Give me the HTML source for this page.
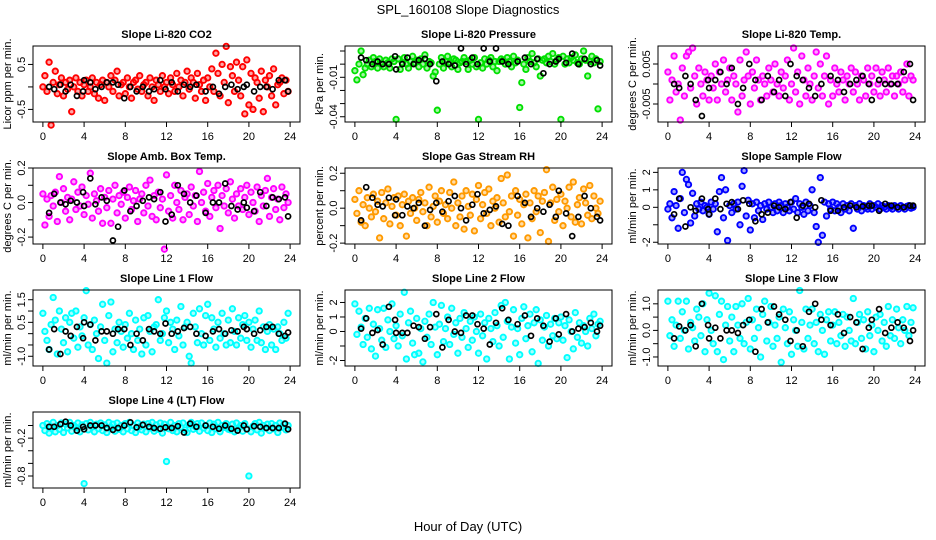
<!DOCTYPE html>
<html><head><meta charset="utf-8"><style>
body{margin:0;background:#fff;}
svg{display:block;font-family:"Liberation Sans",sans-serif;}
</style></head><body>
<svg id="c" width="936" height="540" viewBox="0 0 936 540">
<rect width="936" height="540" fill="#fff"/>
<text x="468" y="14" text-anchor="middle" font-size="13">SPL_160108  Slope Diagnostics</text>
<text x="468" y="531" text-anchor="middle" font-size="13">Hour of Day (UTC)</text>
</svg>
<script>
const H=[0.0,0.2,0.4,0.6,0.8,1.0,1.2,1.4,1.6,1.8,
2.0,2.2,2.4,2.6,2.8,3.0,3.2,3.4,3.6,3.8,
4.0,4.2,4.4,4.6,4.8,5.0,5.2,5.4,5.6,5.8,
6.0,6.2,6.4,6.6,6.8,7.0,7.2,7.4,7.6,7.8,
8.0,8.2,8.4,8.6,8.8,9.0,9.2,9.4,9.6,9.8,
10.0,10.2,10.4,10.6,10.8,11.0,11.2,11.4,11.6,11.8,
12.0,12.2,12.4,12.6,12.8,13.0,13.2,13.4,13.6,13.8,
14.0,14.2,14.4,14.6,14.8,15.0,15.2,15.4,15.6,15.8,
16.0,16.2,16.4,16.6,16.8,17.0,17.2,17.4,17.6,17.8,
18.0,18.2,18.4,18.6,18.8,19.0,19.2,19.4,19.6,19.8,
20.0,20.2,20.4,20.6,20.8,21.0,21.2,21.4,21.6,21.8,
22.0,22.2,22.4,22.6,22.8,23.0,23.2,23.4,23.6,23.8];
const HB=[0.6,1.1,1.7,2.2,2.7,3.3,3.9,4.0,4.6,5.1,5.7,6.2,6.8,7.3,7.9,8.5,9.1,9.7,10.3,10.8,11.4,11.9,12.5,13.1,13.7,14.3,14.9,15.8,16.5,17.1,17.7,18.3,18.9,19.5,19.8,20.5,21.1,21.7,22.3,22.9,23.5,23.8];
const xTicks=[0,4,8,12,16,20,24];

const co2=[0.0,0.25,-0.1,0.55,-0.85,0.1,0.35,-0.15,0.05,0.2,-0.2,0.1,-0.05,0.15,-0.55,0.0,0.2,-0.1,0.1,-0.2,0.05,0.15,-0.1,0.0,0.2,-0.15,0.1,-0.25,0.05,0.15,-0.3,0.1,0.0,0.25,-0.1,0.15,0.35,-0.2,0.05,0.1,-0.15,0.2,0.0,-0.25,0.1,0.15,-0.05,0.25,-0.1,0.05,0.1,-0.2,0.2,0.0,-0.3,0.15,0.05,-0.1,0.25,0.0,0.1,-0.15,0.2,0.05,-0.1,0.3,0.0,0.15,-0.2,0.1,0.35,-0.05,0.2,0.1,-0.25,0.3,0.05,-0.1,0.15,-0.3,0.2,0.0,0.4,-0.1,0.75,0.3,-0.2,0.5,0.1,0.9,-0.35,0.45,0.25,-0.1,0.55,0.15,-0.2,0.45,-0.6,0.6,-0.4,0.3,-0.5,0.2,0.1,-0.25,0.35,-0.55,0.15,0.0,0.25,-0.2,0.4,-0.4,0.05,0.1,0.2,-0.15,0.15,-0.1];
const co2B=[0.0,-0.05,0.05,-0.1,0.05,-0.2,-0.1,0.15,0.1,-0.05,0.0,0.1,0.1,0.05,-0.25,0.0,-0.1,0.0,-0.1,-0.05,0.15,-0.05,0.1,-0.1,0.05,0.0,0.05,-0.1,0.0,-0.15,0.0,0.05,-0.05,0.0,0.05,-0.1,0.0,0.0,-0.05,0.15,0.15,-0.1];
const press=[-0.005,-0.012,0.0,0.01,-0.008,-0.003,0.0,0.003,-0.002,0.005,0.002,-0.003,0.004,0.0,-0.002,0.003,0.001,-0.003,0.004,0.002,-0.042,0.004,-0.004,0.001,0.005,0.0,-0.003,0.002,0.006,0.001,0.003,-0.002,0.004,0.0,0.007,-0.003,0.002,0.001,-0.009,-0.006,-0.035,0.0,0.005,-0.003,0.002,0.006,0.001,-0.002,0.004,0.003,-0.004,0.001,0.002,0.005,0.002,-0.004,0.003,0.0,0.005,-0.002,-0.042,0.001,-0.003,0.004,0.0,0.003,0.005,-0.002,0.002,-0.005,0.002,0.004,0.003,0.0,0.005,0.002,-0.002,0.006,0.001,0.003,-0.033,-0.014,0.0,-0.004,0.005,0.002,0.008,0.001,-0.002,0.004,-0.009,0.003,0.004,0.001,0.006,0.002,0.008,0.0,0.003,0.005,-0.042,0.006,0.0,0.004,0.001,0.005,0.003,0.007,0.001,0.0,0.004,0.01,0.003,-0.009,0.002,0.006,0.001,0.004,-0.034,0.002];
const pressB=[0.005,0.003,0.0,0.002,0.0,0.0,0.006,-0.004,0.0,0.005,0.0,0.003,0.004,0.0,-0.013,0.002,0.0,-0.001,0.012,0.0,0.005,0.0,0.012,0.002,0.012,0.002,0.0,0.002,0.005,0.0,0.004,-0.007,0.0,0.002,0.004,0.001,0.008,0.0,0.004,0.0,0.003,-0.001];
const temp=[0.003,-0.004,0.001,0.007,-0.002,0.0,-0.009,0.004,-0.003,0.007,0.008,-0.001,0.009,0.002,-0.005,0.004,0.0,-0.003,0.003,0.001,-0.004,0.002,-0.001,0.005,-0.004,0.003,0.0,0.006,-0.002,0.001,0.004,-0.004,0.002,0.0,-0.007,0.006,-0.003,0.001,0.008,0.002,-0.005,0.003,-0.001,0.006,0.001,-0.004,0.002,0.0,-0.003,0.004,0.001,-0.002,0.005,0.0,-0.003,0.003,-0.001,0.002,0.006,-0.004,0.0,0.009,-0.002,0.003,-0.005,0.007,0.001,-0.003,0.004,0.0,-0.004,0.002,0.008,-0.001,0.005,-0.003,0.002,0.007,-0.005,0.001,-0.003,0.004,0.0,-0.002,0.003,0.001,-0.004,0.002,0.0,0.004,-0.002,0.003,0.0,-0.004,0.002,0.001,-0.003,0.004,0.0,0.002,-0.002,0.004,0.0,-0.003,0.003,0.001,-0.002,0.004,0.0,0.002,-0.003,0.002,0.0,0.003,-0.002,0.001,0.005,-0.003,0.002,0.001];
const tempB=[0.0,-0.001,0.002,0.0,-0.004,-0.008,0.001,-0.001,0.001,0.003,0.0,0.004,-0.005,-0.001,0.005,0.001,-0.004,0.002,-0.002,0.001,-0.003,0.005,0.002,0.001,-0.001,-0.003,0.0,0.002,0.001,-0.002,0.0,0.001,0.002,0.0,-0.004,0.001,0.0,0.0,0.0,0.003,0.005,-0.004];
const amb=[0.05,-0.13,0.02,-0.08,0.04,-0.02,0.06,-0.11,0.15,0.0,0.08,-0.05,0.03,-0.1,0.02,0.12,-0.04,0.06,-0.02,0.09,-0.07,0.04,-0.01,0.17,-0.09,0.05,0.01,-0.05,0.08,-0.12,0.03,-0.03,0.07,-0.12,0.02,0.1,-0.06,0.04,-0.01,0.06,-0.09,0.03,0.09,-0.04,0.01,0.07,-0.11,0.02,0.05,-0.06,0.1,-0.02,0.13,-0.08,0.04,-0.1,0.06,-0.03,0.02,-0.27,0.16,-0.05,0.04,-0.09,0.1,0.0,-0.04,0.07,-0.1,0.03,0.05,-0.07,0.09,-0.02,0.04,-0.11,0.18,0.0,0.06,-0.05,0.11,-0.08,0.03,0.07,-0.03,0.1,-0.15,0.04,-0.02,0.08,-0.06,0.12,0.02,-0.09,0.05,-0.02,0.08,-0.04,0.03,0.1,-0.07,0.06,0.0,-0.05,0.09,-0.11,0.04,-0.02,0.07,0.14,-0.08,0.03,0.08,-0.04,0.02,-0.1,0.09,-0.03,0.05,0.0];
const ambB=[-0.06,0.05,0.0,-0.01,0.01,0.0,0.06,-0.02,0.14,-0.01,0.03,0.01,-0.22,-0.14,0.07,-0.05,-0.02,0.01,0.03,0.02,0.06,-0.11,-0.07,0.1,0.05,0.0,0.04,-0.06,0.0,0.0,0.11,-0.02,-0.04,0.0,-0.03,-0.05,0.06,-0.02,0.03,0.02,0.03,-0.08];
const rh=[0.05,-0.03,0.1,-0.08,0.02,-0.1,0.06,0.0,-0.05,0.08,-0.02,0.04,-0.17,0.09,-0.06,0.03,0.11,-0.09,0.01,0.06,-0.04,0.07,-0.1,0.02,0.08,-0.16,0.04,-0.03,0.06,0.0,-0.07,0.05,0.09,-0.02,0.03,-0.1,0.12,-0.05,0.01,0.07,-0.08,0.04,0.1,-0.03,0.02,-0.06,0.09,0.0,0.15,-0.1,0.03,-0.05,0.07,-0.12,0.1,0.01,-0.04,0.08,-0.13,0.05,0.13,-0.06,0.02,0.09,-0.03,0.11,-0.1,0.04,0.0,0.06,-0.08,0.17,0.03,-0.05,0.19,-0.02,0.07,-0.16,0.1,-0.04,0.05,-0.09,0.02,0.08,-0.17,0.03,-0.06,0.1,-0.02,0.07,-0.14,0.04,0.09,0.22,-0.19,0.03,0.12,-0.07,0.05,-0.02,0.08,-0.1,0.04,0.0,0.12,-0.05,0.15,-0.08,0.02,0.06,-0.09,0.11,0.03,-0.04,0.13,-0.06,0.07,0.0,-0.03,0.04];
const rhB=[-0.07,0.12,0.06,0.02,0.01,0.06,-0.04,0.05,-0.04,0.01,0.0,0.03,-0.1,-0.01,0.03,-0.02,0.04,0.07,0.0,-0.07,0.02,0.08,-0.03,-0.01,0.01,-0.09,-0.1,0.07,0.03,-0.05,0.0,-0.02,0.02,-0.05,0.1,-0.03,-0.16,-0.05,0.07,0.0,-0.05,-0.07];
const samp=[-0.1,0.2,-0.6,0.9,0.1,-1.2,0.5,2.0,-0.3,1.6,1.3,-0.9,0.8,-0.5,0.2,-0.1,0.3,-0.2,0.1,0.0,-0.4,0.3,-0.1,0.2,-1.4,0.9,1.7,-0.6,1.0,-1.9,0.1,-0.3,0.2,-0.1,0.3,-1.0,1.2,2.1,-0.5,0.4,-1.3,0.2,-0.6,0.3,-0.2,0.1,-0.7,0.2,-0.1,0.3,0.0,-0.3,0.2,-0.2,0.3,0.1,-0.3,0.2,0.0,-0.2,0.3,-0.1,0.5,-0.3,0.2,0.0,-0.4,0.3,-0.2,0.1,1.0,-0.3,-1.1,-2.0,1.7,-1.6,0.3,-0.5,0.2,-0.1,0.3,-0.2,0.2,0.0,-0.3,0.2,-0.1,0.1,-0.2,0.2,-1.2,0.1,-0.1,0.2,-0.2,0.1,0.0,-0.1,0.2,-0.1,0.1,0.0,0.2,-0.1,0.1,0.0,-0.1,0.1,0.0,-0.1,0.1,0.0,-0.1,0.1,0.0,-0.1,0.05,0.1,-0.05,0.0];
const sampB=[-0.4,0.5,-1.1,0.0,-0.2,0.5,-0.1,-0.4,0.5,-0.1,0.2,0.3,-0.1,0.4,0.2,-0.8,-0.4,-0.3,0.1,0.0,-0.1,0.3,-0.6,0.1,0.2,0.0,0.4,-0.2,-0.2,0.0,0.1,0.0,0.05,0.1,0.1,-0.2,0.2,0.1,0.0,0.0,0.1,0.1];
const l1=[0.9,0.1,-0.3,-0.7,0.4,1.6,0.6,-0.9,1.0,0.2,-0.4,0.7,-0.8,0.5,0.9,-0.2,1.0,-0.6,0.3,-0.1,0.7,1.9,-0.5,0.4,-0.7,0.6,0.0,-1.1,0.3,1.3,-0.3,-1.3,0.8,1.4,-0.8,0.2,-0.4,0.5,0.1,-0.6,0.4,-0.2,0.9,0.0,-0.7,0.6,-0.3,0.2,-0.9,0.7,-0.5,0.8,0.1,-0.8,0.3,0.4,1.5,-0.3,0.0,0.7,1.0,-0.4,0.5,0.2,-0.7,0.6,-0.1,1.2,-0.5,0.3,0.5,-1.0,-1.3,0.9,0.3,-0.4,1.1,0.0,-0.5,0.8,1.3,-0.3,0.7,0.2,-0.6,0.5,-0.2,0.9,0.0,-0.5,0.6,-0.4,1.1,0.1,-0.5,0.7,-0.2,0.4,0.8,-0.3,0.5,-0.6,0.2,0.6,-0.3,1.0,-0.4,0.3,-0.7,0.1,0.4,-0.5,0.2,-0.7,0.3,0.0,-0.3,0.5,-0.2,0.9];
const l1B=[-0.7,0.2,-0.9,0.1,-0.1,0.3,-0.2,0.5,0.4,-0.3,0.1,0.1,0.0,0.2,0.2,-0.5,0.0,-0.3,0.2,0.1,0.0,0.45,0.0,0.1,0.25,0.3,0.0,-0.1,0.1,0.2,0.0,0.15,0.1,0.3,0.2,0.0,0.15,0.3,0.3,0.0,-0.1,0.05];
const l2=[1.9,-0.2,1.4,0.3,-0.9,0.9,-0.4,1.6,-1.2,0.5,-1.7,1.5,0.2,-0.6,1.6,-1.1,0.8,0.0,1.9,-0.5,0.4,-1.0,1.2,-0.3,2.7,-1.9,0.6,1.4,-0.8,-1.6,0.9,-1.5,0.2,-2.1,0.7,-0.4,1.2,-0.9,2.0,0.3,-1.6,0.5,1.8,-0.7,0.2,1.0,-0.9,1.6,-0.2,0.6,-1.5,0.9,-0.4,1.3,0.2,-1.1,0.7,-0.6,1.0,0.0,-1.5,1.2,-0.3,0.6,-1.9,0.9,0.2,-0.7,1.3,0.4,-1.0,1.8,-0.4,2.0,0.7,-1.9,0.3,1.5,-0.8,0.2,-1.6,0.9,1.7,-0.5,0.4,1.2,-1.4,0.6,1.5,-2.2,0.8,-0.6,0.3,1.1,-1.0,0.5,-0.3,0.9,-0.5,0.6,1.0,-0.6,0.4,-1.8,0.8,0.0,-1.2,1.3,-0.4,0.6,-0.8,0.4,0.0,-1.0,0.9,0.2,1.2,-0.3,0.5,0.7];
const l2B=[0.2,0.9,-0.1,0.1,-0.9,1.7,0.8,-0.1,-0.1,-0.1,0.4,0.3,-0.5,0.3,1.2,-1.1,0.8,0.0,-0.1,1.1,1.1,0.5,0.2,-0.9,0.6,1.6,0.8,0.5,1.1,-0.3,0.9,0.4,-0.7,0.9,-0.2,1.2,0.0,0.2,0.3,0.6,0.0,0.4];
const l3=[1.1,-0.2,0.4,-0.6,0.2,1.1,-0.3,0.7,0.0,1.1,-0.7,0.3,0.1,-0.4,0.8,0.5,-0.2,1.0,-0.8,0.4,1.4,0.0,-0.5,1.3,-0.8,0.6,1.1,-1.1,0.2,0.9,-0.4,0.5,-0.8,0.9,0.2,-0.3,1.0,-0.5,0.3,1.2,-0.7,0.4,-0.3,0.8,0.1,-1.0,0.6,1.1,-0.4,0.3,0.9,-0.6,0.2,-0.3,0.5,-1.2,0.8,0.1,-0.5,0.7,-0.9,0.4,0.0,-0.6,1.5,0.3,-0.7,0.8,-0.3,0.2,0.8,-0.5,0.3,-0.8,0.6,0.0,-0.9,0.4,0.7,-0.4,0.2,0.7,-0.5,0.3,-0.2,0.6,-0.6,0.5,0.0,-0.4,1.2,-0.5,0.3,0.6,-0.3,0.4,-0.7,0.7,-0.2,0.2,-0.8,0.5,0.0,0.6,-0.4,0.3,-0.6,0.9,-0.2,0.4,-0.3,0.8,0.1,-0.5,0.4,0.0,0.9,-0.2,0.3,0.85];
const l3B=[-0.3,0.15,0.0,0.2,-0.6,1.0,0.2,-0.3,0.1,-0.3,0.0,0.0,-0.1,0.2,0.4,-0.8,0.8,0.3,0.9,0.6,0.4,-0.4,0.0,-0.6,0.7,1.0,0.4,0.2,0.6,-0.1,0.5,0.3,-0.7,0.1,0.4,0.8,-0.1,0.1,0.3,0.1,-0.4,0.0];
const l4=[0.0,-0.08,0.03,-0.12,-0.02,0.05,-0.1,0.0,-0.06,0.04,-0.11,0.02,-0.04,0.05,-0.09,0.0,-0.03,0.04,-0.1,0.01,-0.92,0.03,-0.07,0.05,-0.02,-0.1,0.02,-0.05,0.04,-0.08,0.01,-0.11,0.05,-0.03,0.02,-0.09,0.04,-0.06,0.0,-0.1,0.03,-0.05,0.05,-0.08,0.0,-0.11,0.04,-0.02,-0.07,0.02,-0.1,0.03,-0.04,0.05,-0.09,0.01,-0.06,0.04,-0.12,0.02,-0.57,-0.05,0.05,-0.08,0.0,-0.1,0.03,-0.03,0.04,-0.07,-0.11,0.01,0.05,-0.06,-0.02,0.03,-0.09,0.04,-0.04,0.0,-0.08,0.04,-0.11,0.02,-0.05,0.05,-0.1,0.0,-0.03,0.03,-0.06,-0.07,0.02,-0.1,0.04,-0.04,0.0,-0.09,0.03,-0.05,-0.8,-0.1,-0.01,0.03,-0.07,0.05,-0.12,0.0,-0.04,0.02,-0.08,0.03,-0.05,0.0,-0.11,0.04,-0.03,0.02,-0.07,0.0];
const l4B=[-0.02,-0.02,0.02,0.06,0.0,-0.08,-0.02,-0.06,0.0,0.0,0.0,-0.04,-0.07,-0.04,0.0,0.05,-0.03,0.01,-0.02,-0.04,-0.05,-0.03,-0.04,-0.01,-0.11,0.03,-0.02,0.0,-0.02,-0.05,0.0,-0.05,-0.08,0.0,-0.06,-0.01,-0.02,-0.04,-0.04,-0.04,0.03,-0.06];

const co2Ticks=[0.5,0,-0.5], co2Labels=["0.5","","-0.5"];
const pressTicks=[0.01,0,-0.01,-0.02,-0.03,-0.04], pressLabels=["","","-0.01","","","-0.04"];
const tempTicks=[0.005,0,-0.005], tempLabels=["0.005","","-0.005"];
const ambTicks=[0.2,0.1,0,-0.1,-0.2], ambLabels=["0.2","","0.0","","-0.2"];
const rhTicks=[0.2,0.1,0,-0.1,-0.2], rhLabels=["0.2","","0.0","","-0.2"];
const sampTicks=[2,1,0,-1,-2], sampLabels=["2","1","0","","-2"];
const l1Ticks=[1.5,1,0.5,0,-0.5,-1], l1Labels=["1.5","","0.5","","","-1.0"];
const l2Ticks=[2,1,0,-1,-2], l2Labels=["2","1","0","","-2"];
const l3Ticks=[1,0.5,0,-0.5,-1], l3Labels=["1.0","","0.0","","-1.0"];
const l4Ticks=[0,-0.2,-0.4,-0.6,-0.8], l4Labels=["","-0.2","","","-0.8"];

const panels=[
 {name:"co2",title:"Slope Li-820 CO2",yt:"Licor ppm per min.",col:0,row:0,lim:[-0.78,0.91],v:co2,b:co2B,t:co2Ticks,l:co2Labels,c:"#ff0000"},
 {name:"pressure",title:"Slope Li-820 Pressure",yt:"kPa per min.",col:1,row:0,lim:[-0.044,0.0138],v:press,b:pressB,t:pressTicks,l:pressLabels,c:"#00e000"},
 {name:"temp",title:"Slope Li-820 Temp.",yt:"degrees C per min.",col:2,row:0,lim:[-0.0095,0.0095],v:temp,b:tempB,t:tempTicks,l:tempLabels,c:"#ff00ff"},
 {name:"amb-box-temp",title:"Slope Amb. Box Temp.",yt:"degrees C per min.",col:0,row:1,lim:[-0.24,0.2],v:amb,b:ambB,t:ambTicks,l:ambLabels,c:"#ff00ff"},
 {name:"gas-rh",title:"Slope Gas Stream RH",yt:"percent per min.",col:1,row:1,lim:[-0.205,0.23],v:rh,b:rhB,t:rhTicks,l:rhLabels,c:"#ff9a00"},
 {name:"sample-flow",title:"Slope Sample Flow",yt:"ml/min per min.",col:2,row:1,lim:[-2.1,2.25],v:samp,b:sampB,t:sampTicks,l:sampLabels,c:"#0000ff"},
 {name:"line1-flow",title:"Slope Line 1 Flow",yt:"ml/min per min.",col:0,row:2,lim:[-1.43,1.93],v:l1,b:l1B,t:l1Ticks,l:l1Labels,c:"#00ffff"},
 {name:"line2-flow",title:"Slope Line 2 Flow",yt:"ml/min per min.",col:1,row:2,lim:[-2.38,2.86],v:l2,b:l2B,t:l2Ticks,l:l2Labels,c:"#00ffff"},
 {name:"line3-flow",title:"Slope Line 3 Flow",yt:"ml/min per min.",col:2,row:2,lim:[-1.34,1.52],v:l3,b:l3B,t:l3Ticks,l:l3Labels,c:"#00ffff"},
 {name:"line4-flow",title:"Slope Line 4 (LT) Flow",yt:"ml/min per min.",col:0,row:3,lim:[-0.99,0.214],v:l4,b:l4B,t:l4Ticks,l:l4Labels,c:"#00ffff"}
];
const NS="http://www.w3.org/2000/svg";
const svg=document.getElementById('c');
const colL=[33,345,658], rowT=[46,168,290,412], W=267, HT=76;
function mk(tag,attrs,parent){const e=document.createElementNS(NS,tag);for(const k in attrs)e.setAttribute(k,attrs[k]);parent.appendChild(e);return e;}
panels.forEach(p=>{
 const L=colL[p.col], T=rowT[p.row], B=T+HT;
 const g=mk('g',{},svg);
 
 
 const xs=h=>L+(h+0.96)/25.92*W;
 const ys=v=>B-(v-p.lim[0])/(p.lim[1]-p.lim[0])*HT;
 const tt=mk('text',{x:L+W/2,y:T-8,'text-anchor':'middle','font-size':11,'font-weight':'bold'},g);
 tt.textContent=p.title;
 
 
 const yt=mk('text',{x:0,y:0,'text-anchor':'middle','font-size':11,transform:`translate(${L-22},${T+HT/2}) rotate(-90)`},g);
 yt.textContent=p.yt;
 
 
 const pts=mk('g',{fill:p.c,'fill-opacity':0.35,stroke:p.c,'stroke-width':1.9},g);
 
 
 p.v.forEach((v,i)=>{if(i>=H.length)return;const c=mk('circle',{cx:xs(H[i]).toFixed(1),cy:ys(v).toFixed(1),r:2.7},pts);
  
  });
 const bp=mk('g',{fill:'none',stroke:'#000','stroke-width':1.7},g);
 
 
 p.b.forEach((v,i)=>{if(i>=HB.length)return;const c=mk('circle',{cx:xs(HB[i]).toFixed(1),cy:ys(v).toFixed(1),r:2.5},bp);
  
  });
 const box=mk('rect',{x:L,y:T,width:W,height:HT,fill:'none',stroke:'#000','stroke-width':1},g);
 
 
 const xa=mk('g',{stroke:'#000','stroke-width':1},g);
 
 
 mk('line',{x1:xs(0),x2:xs(24),y1:B,y2:B},xa);
 xTicks.forEach(t=>{mk('line',{x1:xs(t),x2:xs(t),y1:B,y2:B+5},xa);
  const tx=mk('text',{x:xs(t),y:B+18,'text-anchor':'middle','font-size':11,stroke:'none',fill:'#000'},xa);tx.textContent=t;
  
  });
 const ya=mk('g',{stroke:'#000','stroke-width':1},g);
 
 
 mk('line',{x1:L,x2:L,y1:ys(p.t[0]),y2:ys(p.t[p.t.length-1])},ya);
 p.t.forEach((t,i)=>{const y=ys(t);mk('line',{x1:L-5,x2:L,y1:y,y2:y},ya);
  if(p.l[i]){const tx=mk('text',{x:0,y:0,'text-anchor':'middle','font-size':11,stroke:'none',fill:'#000',transform:`translate(${L-8},${y}) rotate(-90)`},ya);tx.textContent=p.l[i];
  
  }});
});
</script>
</body></html>
